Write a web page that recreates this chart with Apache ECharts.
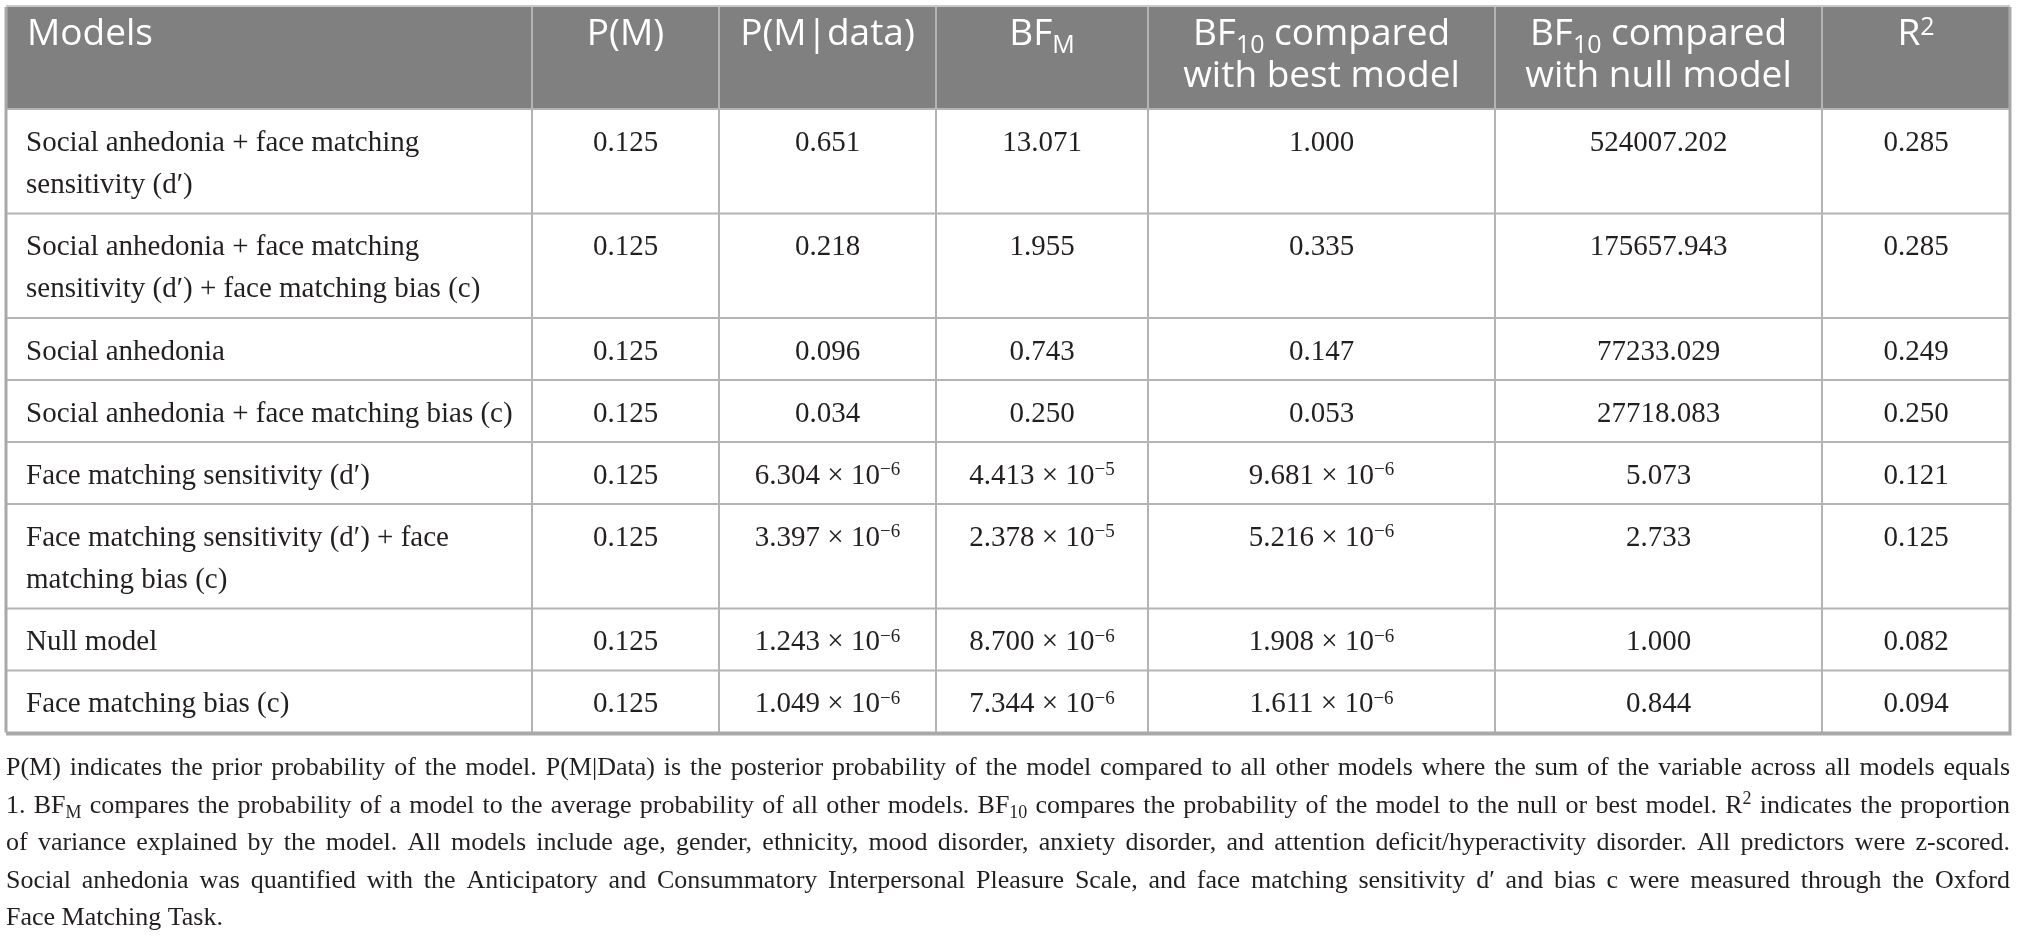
<!DOCTYPE html>
<html>
<head>
<meta charset="utf-8">
<script src="https://cdn.jsdelivr.net/npm/echarts@6/dist/echarts.min.js"></script>
<style>
html, body { margin: 0; padding: 0; background: #fff; }
#table { width: 2018px; height: 938px; }
</style>
</head>
<body>
<div id="table"></div>
<script>
// table content ( _{..} = subscript, ^{..} = superscript )
var headers = ['Models', 'P(M)', 'P(M|data)', 'BF_{M}', 'BF_{10} compared\nwith best model', 'BF_{10} compared\nwith null model', 'R^{2}'];
var models = [
    'Social anhedonia + face matching\nsensitivity (d\u2032)',
    'Social anhedonia + face matching\nsensitivity (d\u2032) + face matching bias (c)',
    'Social anhedonia',
    'Social anhedonia + face matching bias (c)',
    'Face matching sensitivity (d\u2032)',
    'Face matching sensitivity (d\u2032) + face\nmatching bias (c)',
    'Null model',
    'Face matching bias (c)'
];
var priorProb = [0.125, 0.125, 0.125, 0.125, 0.125, 0.125, 0.125, 0.125];
var posteriorProb = [0.651, 0.218, 0.096, 0.034, 6.304e-6, 3.397e-6, 1.243e-6, 1.049e-6];
var bfM = [13.071, 1.955, 0.743, 0.250, 4.413e-5, 2.378e-5, 8.700e-6, 7.344e-6];
var bf10Best = [1.000, 0.335, 0.147, 0.053, 9.681e-6, 5.216e-6, 1.908e-6, 1.611e-6];
var bf10Null = [524007.202, 175657.943, 77233.029, 27718.083, 5.073, 2.733, 1.000, 0.844];
var rSquared = [0.285, 0.285, 0.249, 0.250, 0.121, 0.125, 0.082, 0.094];
var notes = [
    'P(M) indicates the prior probability of the model. P(M|Data) is the posterior probability of the model compared to all other models where the sum of the variable across all models equals',
    '1. BF_{M} compares the probability of a model to the average probability of all other models. BF_{10} compares the probability of the model to the null or best model. R^{2} indicates the proportion',
    'of variance explained by the model. All models include age, gender, ethnicity, mood disorder, anxiety disorder, and attention deficit/hyperactivity disorder. All predictors were z-scored.',
    'Social anhedonia was quantified with the Anticipatory and Consummatory Interpersonal Pleasure Scale, and face matching sensitivity d\u2032 and bias c were measured through the Oxford',
    'Face Matching Task.'
];

var columns = [priorProb, posteriorProb, bfM, bf10Best, bf10Null, rSquared];

// layout
var colEdges = [6, 532, 719, 936, 1148, 1495, 1822, 2010];
var headTop = 7, headBottom = 109;
var lineColor = '#b4b4b4';

var SERIF = "'Liberation Serif', 'Times New Roman', Times, 'DejaVu Serif', serif";
var HEAD = { family: "'Open Sans', sans-serif", size: 37, fill: '#ffffff', script: 25, subDy: 7, supDy: -11 };
var BODY = { family: SERIF, size: 29, fill: '#231f20', script: 19, subDy: 6, supDy: -9 };
var NOTE = { family: SERIF, size: 26, fill: '#231f20', script: 18, subDy: 5, supDy: -9 };

function fmt(v) {
    if (v >= 0.001) return v.toFixed(3);
    var e = Math.floor(Math.log10(v) + 1e-9);
    var m = v / Math.pow(10, e);
    return m.toFixed(3) + ' \u00d7 10^{\u2212' + (-e) + '}';
}

var ctx = document.createElement('canvas').getContext('2d');
function font(size, st) { return size + 'px ' + st.family; }
function measure(t, f) { ctx.font = f; return ctx.measureText(t).width; }
function midOffset(f, size) {
    ctx.font = f;
    ctx.textBaseline = 'alphabetic';
    var m = ctx.measureText('Hg');
    if (m.fontBoundingBoxAscent != null) return (m.fontBoundingBoxAscent - m.fontBoundingBoxDescent) / 2;
    return 0.34 * size;
}

// split markup into pieces with font / vertical shift / width
function pieces(str, st) {
    var out = [], re = /([_^])\{([^}]*)\}/g, last = 0, m;
    function add(text, kind) {
        if (!text) return;
        var size = kind === 'n' ? st.size : st.script;
        var f = font(size, st);
        out.push({ text: text, font: f, size: size,
            dy: kind === 'sub' ? st.subDy : (kind === 'sup' ? st.supDy : 0),
            w: measure(text, f) });
    }
    while ((m = re.exec(str))) {
        add(str.slice(last, m.index), 'n');
        add(m[2], m[1] === '_' ? 'sub' : 'sup');
        last = re.lastIndex;
    }
    add(str.slice(last), 'n');
    return out;
}

var els = [];
function put(ps, x, baseline, st) {
    ps.forEach(function (p) {
        els.push({
            type: 'text', x: x, y: baseline + p.dy - midOffset(p.font, p.size), silent: true,
            style: { text: p.text, font: p.font, fill: st.fill, align: 'left', verticalAlign: 'middle',
                textAlign: 'left', textVerticalAlign: 'middle' }
        });
        x += p.w;
    });
}
function drawLine(str, st, x, baseline, align) {
    var ps = pieces(str, st);
    var w = ps.reduce(function (s, p) { return s + p.w; }, 0);
    put(ps, align === 'center' ? x - w / 2 : x, baseline, st);
}
function drawJustified(str, st, x0, x1, baseline) {
    var words = str.split(' ').map(function (w) { return pieces(w, st); });
    var widths = words.map(function (ps) { return ps.reduce(function (s, p) { return s + p.w; }, 0); });
    var total = widths.reduce(function (a, b) { return a + b; }, 0);
    var gap = (x1 - x0 - total) / (words.length - 1);
    var x = x0;
    words.forEach(function (ps, i) { put(ps, x, baseline, st); x += widths[i] + gap; });
}

// row geometry from line counts
var rowTops = [], y = headBottom;
models.forEach(function (m) {
    rowTops.push(y);
    y += 62 + 42.5 * (m.split('\n').length - 1);
});
var tableBottom = y;

// header background
els.push({ type: 'rect', shape: { x: colEdges[0], y: headTop, width: colEdges[7] - colEdges[0], height: headBottom - headTop },
    style: { fill: '#808080' }, silent: true });

// grid lines
rowTops.forEach(function (t) {
    els.push({ type: 'line', shape: { x1: colEdges[0], y1: t, x2: colEdges[7], y2: t }, style: { stroke: lineColor, lineWidth: 2 }, silent: true });
});
colEdges.forEach(function (cx, i) {
    els.push({ type: 'line', shape: { x1: cx, y1: headTop, x2: cx, y2: tableBottom },
        style: { stroke: i === 0 || i === 7 ? '#a9a9a9' : lineColor, lineWidth: i === 0 || i === 7 ? 3 : 2 }, silent: true });
});
els.push({ type: 'line', shape: { x1: colEdges[0], y1: tableBottom + 1, x2: colEdges[7] + 1.5, y2: tableBottom + 1 },
    style: { stroke: '#a9a9a9', lineWidth: 4 }, silent: true });
els.push({ type: 'line', shape: { x1: colEdges[0], y1: headTop - 1, x2: colEdges[7], y2: headTop - 1 },
    style: { stroke: '#c8c8c8', lineWidth: 2 }, silent: true });

// header text
headers.forEach(function (h, c) {
    h.split('\n').forEach(function (ln, k) {
        var base = 49 + 42 * k;
        if (c === 0) drawLine(ln, HEAD, colEdges[0] + 21, base, 'left');
        else drawLine(ln, HEAD, (colEdges[c] + colEdges[c + 1]) / 2, base, 'center');
    });
});

// body text
models.forEach(function (m, r) {
    m.split('\n').forEach(function (ln, k) {
        drawLine(ln, BODY, colEdges[0] + 20, rowTops[r] + 44 + 42 * k, 'left');
    });
    columns.forEach(function (col, c) {
        drawLine(fmt(col[r]), BODY, (colEdges[c + 1] + colEdges[c + 2]) / 2, rowTops[r] + 44, 'center');
    });
});

// footnote
notes.forEach(function (n, i) {
    var base = 777 + 37.5 * i;
    if (i < notes.length - 1) drawJustified(n, NOTE, 6, 2010, base);
    else drawLine(n, NOTE, 6, base, 'left');
});

var chart = echarts.init(document.getElementById('table'));
chart.setOption({ animation: false, graphic: { elements: els } });
</script>
</body>
</html>
